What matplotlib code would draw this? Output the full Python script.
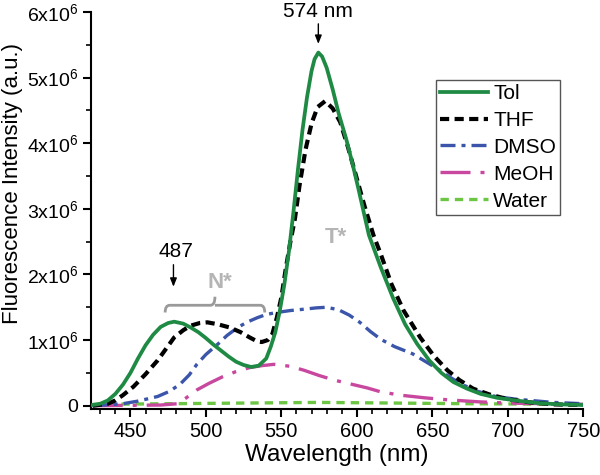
import matplotlib
matplotlib.use('Agg')
import matplotlib.pyplot as plt
from matplotlib.path import Path
import matplotlib.patches as patches
from matplotlib.ticker import MultipleLocator, FuncFormatter

plt.rcParams['font.family'] = ['Liberation Sans', 'DejaVu Sans']

# intensities in units of 1e6 a.u.
tol_x = [425, 430, 435, 440, 445, 450, 455, 460, 465, 470, 475, 479, 485, 490, 495,
         500, 505, 510, 515, 520, 525, 530, 535, 540, 543, 546, 549, 552, 555, 558,
         561, 564, 567, 570, 572, 574.5, 577, 580, 584, 588, 593, 597, 601, 608, 616,
         624, 632, 640, 648, 656, 664, 673, 682, 693, 705, 720, 735, 750]
tol_y = [0.01, 0.03, 0.08, 0.18, 0.32, 0.50, 0.72, 0.92, 1.08, 1.20, 1.26, 1.28, 1.25, 1.19, 1.12,
         1.03, 0.93, 0.84, 0.75, 0.67, 0.62, 0.59, 0.61, 0.72, 0.90, 1.12, 1.45, 1.85, 2.35, 2.95,
         3.60, 4.20, 4.70, 5.10, 5.28, 5.38, 5.32, 5.15, 4.82, 4.45, 4.06, 3.70, 3.31, 2.60, 2.10,
         1.64, 1.24, 0.94, 0.69, 0.50, 0.36, 0.26, 0.18, 0.12, 0.08, 0.04, 0.02, 0.01]

thf_x = [425, 435, 440, 445, 452, 460, 468, 474, 479, 485, 490, 496, 501, 508, 516,
         523, 529, 534, 537, 541, 544, 547, 550, 553, 556, 559, 562, 566, 570, 574,
         579, 584, 589, 594, 600, 605, 611, 616, 623, 631, 642, 651, 660, 668, 677,
         688, 700, 715, 730, 750]
thf_y = [0.00, 0.03, 0.08, 0.16, 0.29, 0.48, 0.69, 0.88, 1.04, 1.15, 1.22, 1.26, 1.27, 1.24, 1.19,
         1.12, 1.04, 0.98, 0.97, 1.00, 1.09, 1.34, 1.65, 2.10, 2.50, 2.85, 3.35, 3.90, 4.30, 4.55,
         4.64, 4.53, 4.32, 3.95, 3.46, 3.05, 2.60, 2.30, 1.85, 1.45, 1.04, 0.76, 0.54, 0.39, 0.26,
         0.17, 0.10, 0.05, 0.02, 0.01]

dmso_x = [425, 445, 455, 468, 476, 483, 489, 494, 500, 508, 514, 521, 527, 534, 540,
          547, 556, 565, 573, 580, 588, 595, 602, 609, 616, 625, 637, 645, 655, 662,
          670, 680, 692, 705, 715, 730, 750]
dmso_y = [0.00, 0.03, 0.07, 0.14, 0.22, 0.33, 0.47, 0.63, 0.78, 0.94, 1.07, 1.19, 1.27, 1.34, 1.39,
          1.42, 1.45, 1.47, 1.49, 1.50, 1.46, 1.38, 1.27, 1.13, 1.01, 0.90, 0.79, 0.68, 0.54, 0.43,
          0.32, 0.22, 0.14, 0.10, 0.08, 0.05, 0.03]

meoh_x = [425, 470, 481, 487, 494, 502, 511, 520, 529, 537, 545, 556, 565, 575, 585,
          596, 607, 616, 629, 645, 660, 680, 700, 750]
meoh_y = [0.00, 0.01, 0.03, 0.12, 0.24, 0.34, 0.44, 0.52, 0.58, 0.61, 0.63, 0.60, 0.54, 0.46, 0.39,
          0.33, 0.27, 0.21, 0.16, 0.12, 0.09, 0.06, 0.04, 0.02]

water_x = [425, 475, 525, 575, 625, 675, 750]
water_y = [0.02, 0.03, 0.04, 0.05, 0.04, 0.03, 0.02]

SCALE = 1e6

fig = plt.figure(figsize=(6, 4.75), dpi=100)
ax = fig.add_axes([0.152, 0.139, 0.82, 0.836])

ax.plot(tol_x, [v * SCALE for v in tol_y], color='#1e8a44', lw=2.7, label='Tol', zorder=5)
ax.plot(thf_x, [v * SCALE for v in thf_y], color='black', lw=3, ls=(0, (2.2, 1.3)), label='THF', zorder=4)
ax.plot(dmso_x, [v * SCALE for v in dmso_y], color='#3a55aa', lw=2.4, ls=(0, (4.5, 1.8, 1.2, 1.8)), label='DMSO', zorder=3)
ax.plot(meoh_x, [v * SCALE for v in meoh_y], color='#c8479f', lw=2.4, ls=(0, (9, 3, 1.2, 3)), label='MeOH', zorder=2)
ax.plot(water_x, [v * SCALE for v in water_y], color='#6cc644', lw=2.4, ls=(0, (2.5, 1.8)), label='Water', zorder=1)

ax.set_xlim(424, 750)
ax.set_ylim(-0.05e6, 6e6)

ax.spines['top'].set_visible(False)
ax.spines['right'].set_visible(False)
for s in ('left', 'bottom'):
    ax.spines[s].set_linewidth(1.5)

ax.xaxis.set_major_locator(MultipleLocator(50))
ax.xaxis.set_minor_locator(MultipleLocator(10))
ax.yaxis.set_major_locator(MultipleLocator(1e6))
ax.yaxis.set_minor_locator(MultipleLocator(0.5e6))
ax.tick_params(which='major', length=6, width=1.5)
ax.tick_params(which='minor', length=3.5, width=1.2)
ax.tick_params(axis='x', labelsize=14.5)
ax.tick_params(axis='y', labelsize=14)


def yfmt(v, pos):
    n = int(round(v / 1e6))
    if n == 0:
        return '0'
    return r'$\mathregular{%dx10^6}$' % n


ax.yaxis.set_major_formatter(FuncFormatter(yfmt))

ax.set_xlabel('Wavelength (nm)', fontsize=17.5)
ax.set_ylabel('Fluorescence Intensity (a.u.)', fontsize=16)
ax.xaxis.set_label_coords(0.5, -0.088)
ax.yaxis.set_label_coords(-0.138, 0.567)

leg = ax.legend(loc='upper right', bbox_to_anchor=(0.953, 0.829), borderaxespad=0,
                fontsize=15, handlelength=2.3, handletextpad=0.25, labelspacing=0.38,
                fancybox=False, framealpha=1, borderpad=0.2)
leg.get_frame().set_edgecolor('#555555')
leg.get_frame().set_linewidth(1.0)

# peak annotations
ax.annotate('', xy=(574.5, 5.47e6), xytext=(574.5, 5.86e6),
            arrowprops=dict(arrowstyle='-|>,head_width=0.2,head_length=0.5', color='black', lw=1))
ax.text(574.5, 6.0e6, '574 nm', ha='center', va='center', fontsize=15, clip_on=False)
ax.annotate('', xy=(478.5, 1.77e6), xytext=(478.5, 2.19e6),
            arrowprops=dict(arrowstyle='-|>,head_width=0.2,head_length=0.5', color='black', lw=1))
ax.text(480, 2.35e6, '487', ha='center', va='center', fontsize=15)

# brace over the N* band
bx0, bx1, bxm = 473, 539, 506
by0, by1, bym = 1.42e6, 1.53e6, 1.66e6
verts = [(bx0, by0), (bx0, by1), (bx0 + 3, by1),
         (bxm - 3, by1), (bxm, by1), (bxm, bym),
         (bxm, by1), (bxm + 3, by1),
         (bx1 - 3, by1), (bx1, by1), (bx1, by0)]
codes = [Path.MOVETO, Path.CURVE3, Path.CURVE3,
         Path.LINETO, Path.CURVE3, Path.CURVE3,
         Path.MOVETO, Path.CURVE3,
         Path.LINETO, Path.CURVE3, Path.CURVE3]
ax.add_patch(patches.PathPatch(Path(verts, codes), fc='none', ec='#9a9a9a', lw=2, zorder=6))

ax.text(509.5, 1.88e6, 'N*', ha='center', va='center', fontsize=16, fontweight='bold', color='#b5b5b5')
ax.text(586, 2.56e6, 'T*', ha='center', va='center', fontsize=16, fontweight='bold', color='#b5b5b5')

fig.savefig('out.png', dpi=100)
